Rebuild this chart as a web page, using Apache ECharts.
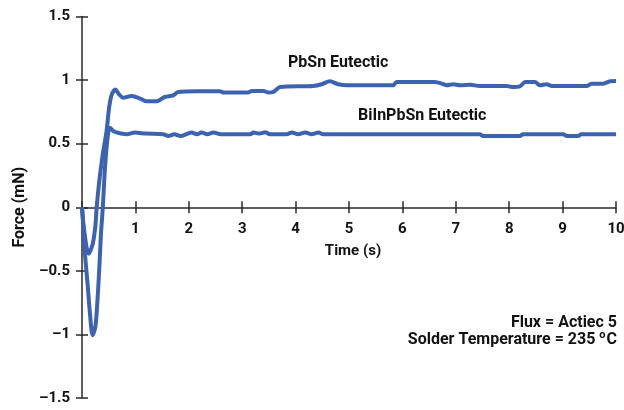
<!DOCTYPE html>
<html>
<head>
<meta charset="utf-8">
<script src="https://cdn.jsdelivr.net/npm/echarts@6/dist/echarts.min.js"></script>
<style>
  html, body { margin: 0; padding: 0; background: #fff; }
</style>
</head>
<body>
<div id="chart" style="width: 624px; height: 410px;"></div>
<script>
// PbSn Eutectic trace (time s, force mN)
var pbsnTime = [0, 0.04, 0.125, 0.2, 0.25, 0.275, 0.325, 0.39, 0.46, 0.51, 0.56, 0.625, 0.69, 0.77, 0.93,
  1.09, 1.21, 1.4, 1.55, 1.71, 1.8, 2.15, 2.58, 2.65, 3.11, 3.18, 3.4, 3.49, 3.58, 3.71, 4.33, 4.49, 4.64,
  4.8, 4.96, 5.83, 5.89, 6.61, 6.77, 6.83, 6.95, 7.08, 7.27, 7.45, 7.95, 8.05, 8.2, 8.3, 8.48, 8.58, 8.7,
  8.8, 9.45, 9.54, 9.76, 9.89, 10]
var pbsnForce = [0, -0.18, -0.365, -0.29, -0.15, 0, 0.21, 0.42, 0.6, 0.79, 0.89, 0.925, 0.89, 0.862, 0.875,
  0.855, 0.833, 0.833, 0.867, 0.88, 0.906, 0.912, 0.912, 0.902, 0.902, 0.914, 0.914, 0.902, 0.905, 0.946,
  0.954, 0.967, 0.991, 0.967, 0.959, 0.959, 0.985, 0.985, 0.967, 0.959, 0.967, 0.959, 0.963, 0.954, 0.954,
  0.946, 0.951, 0.985, 0.985, 0.959, 0.967, 0.954, 0.954, 0.972, 0.972, 0.991, 0.993]

// BiInPbSn Eutectic trace
var biinTime = [0, 0.025, 0.06, 0.11, 0.15, 0.2, 0.25, 0.29, 0.325, 0.355, 0.39, 0.42, 0.45, 0.49, 0.52,
  0.6, 0.73, 0.84, 0.99, 1.2, 1.52, 1.62, 1.73, 1.84, 2.05, 2.15, 2.24, 2.35, 2.46, 2.6, 3.15, 3.21, 3.33,
  3.43, 3.52, 3.83, 3.93, 4.05, 4.18, 4.3, 4.43, 4.52, 7.45, 7.51, 8.2, 8.26, 9.01, 9.08, 9.29, 9.35, 10]
var biinForce = [0, -0.155, -0.39, -0.63, -0.84, -1.006, -0.94, -0.73, -0.47, -0.21, 0, 0.24, 0.42, 0.58,
  0.625, 0.595, 0.58, 0.574, 0.587, 0.579, 0.574, 0.56, 0.574, 0.56, 0.587, 0.574, 0.587, 0.574, 0.587,
  0.574, 0.574, 0.587, 0.579, 0.59, 0.574, 0.574, 0.587, 0.574, 0.587, 0.574, 0.587, 0.574, 0.574, 0.56,
  0.56, 0.574, 0.574, 0.56, 0.56, 0.574, 0.574]

var yTickLabels = {'1.5': '1.5', '1': '1', '0.5': '0.5', '0': '0', '-0.5': '\u20130.5', '-1': '\u20131', '-1.5': '\u20131.5'}

var font = 'Roboto, "Liberation Sans", sans-serif'
var lineColor = '#3c62b2'
var axisColor = '#2a2a2a'
// grid is 381.5px tall, so y = 0 sits 190.75px above its bottom edge
var zeroOffset = -190.75

function pairs(xs, ys) {
  var out = []
  for (var i = 0; i < xs.length; i++) {
    out.push([xs[i], ys[i]])
  }
  return out
}

var myChart = echarts.init(document.getElementById('chart'))
myChart.setOption({
  animation: false,
  grid: {left: 82, right: 8, top: 16.5, bottom: 12, outerBoundsMode: 'none'},
  xAxis: [{
    type: 'value', min: 0, max: 10, interval: 1, position: 'bottom', offset: zeroOffset,
    axisLine: {onZero: false, lineStyle: {color: axisColor, width: 1.5}},
    axisTick: {length: 6, lineStyle: {color: axisColor, width: 1.5}},
    axisLabel: {
      margin: 14, fontFamily: font, fontWeight: 'bold', fontSize: 15, color: '#111',
      formatter: function(v) { return v === 0 ? '' : String(v) }
    },
    splitLine: {show: false},
    name: 'Time (s)', nameLocation: 'middle', nameGap: 36,
    nameTextStyle: {fontFamily: font, fontWeight: 'bold', fontSize: 15, color: '#111', padding: [0, 0, 0, 8]}
  }, {
    type: 'value', min: 0, max: 10, interval: 1, position: 'bottom', offset: zeroOffset,
    axisLine: {onZero: false, show: false},
    axisTick: {inside: true, length: 6, lineStyle: {color: axisColor, width: 1.5}},
    axisLabel: {show: false},
    splitLine: {show: false}
  }],
  yAxis: [{
    type: 'value', min: -1.5, max: 1.5, interval: 0.5, position: 'left',
    axisLine: {show: true, onZero: false, lineStyle: {color: axisColor, width: 1.5}},
    axisTick: {show: true, length: 6, lineStyle: {color: axisColor, width: 1.5}},
    axisLabel: {
      margin: 12, fontFamily: font, fontWeight: 'bold', fontSize: 15, color: '#111',
      formatter: function(v) { return yTickLabels[String(v)] }
    },
    splitLine: {show: false},
    name: 'Force (mN)', nameLocation: 'middle', nameGap: 44, nameRotate: 90,
    nameTextStyle: {fontFamily: font, fontWeight: 'bold', fontSize: 16, color: '#111'}
  }, {
    type: 'value', min: -1.5, max: 1.5, interval: 0.5, position: 'left',
    axisLine: {show: false, onZero: false},
    axisTick: {show: true, inside: true, length: 6, lineStyle: {color: axisColor, width: 1.5}},
    axisLabel: {show: false},
    splitLine: {show: false}
  }],
  graphic: [{
    type: 'text', left: 340 - 52, top: 55,
    style: {text: 'PbSn Eutectic', font: 'bold 16px ' + font, fill: '#111'}
  }, {
    type: 'text', left: 427 - 69, top: 108,
    style: {text: 'BiInPbSn Eutectic', font: 'bold 16px ' + font, fill: '#111'}
  }, {
    type: 'text', right: 7, top: 315,
    style: {text: 'Flux = Actiec 5', font: 'bold 16px ' + font, fill: '#111', align: 'right'}
  }, {
    type: 'text', right: 7, top: 330,
    style: {
      text: 'Solder Temperature = 235 {sup|o}C', font: 'bold 16px ' + font, fill: '#111',
      rich: {sup: {fontSize: 11, fontWeight: 'bold', fontFamily: font, verticalAlign: 'top', padding: [0, 1, 8, 0]}}
    }
  }],
  series: [{
    name: 'PbSn Eutectic', type: 'line', xAxisIndex: 0, yAxisIndex: 0,
    data: pairs(pbsnTime, pbsnForce),
    symbol: 'none', smooth: 0.3,
    lineStyle: {color: lineColor, width: 4}
  }, {
    name: 'BiInPbSn Eutectic', type: 'line', xAxisIndex: 0, yAxisIndex: 0,
    data: pairs(biinTime, biinForce),
    symbol: 'none', smooth: 0.3,
    lineStyle: {color: lineColor, width: 4}
  }]
})
</script>
</body>
</html>
